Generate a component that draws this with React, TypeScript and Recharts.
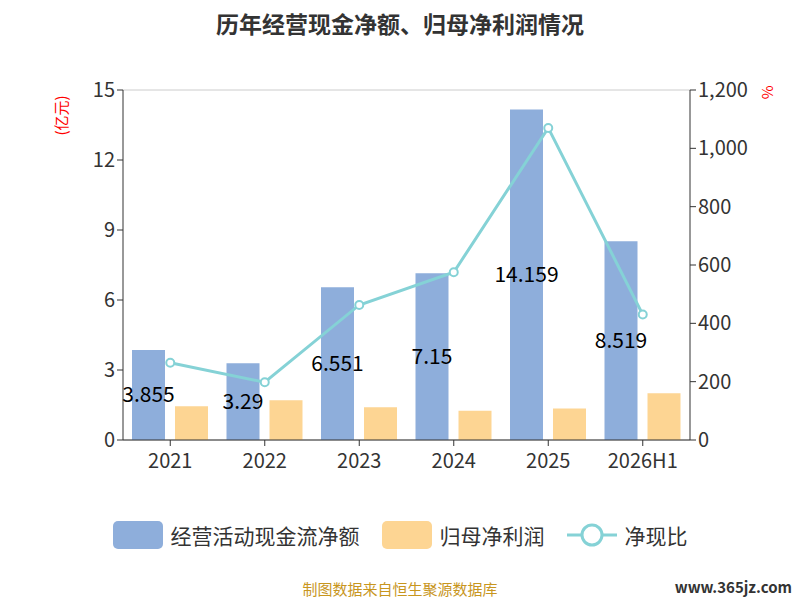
import { Bar, CartesianGrid, ComposedChart, LabelList, Line, XAxis, YAxis } from "recharts";

const years = ["2021", "2022", "2023", "2024", "2025", "2026H1"];
const cashFlow = [3.855, 3.29, 6.551, 7.15, 14.159, 8.519];
const netProfit = [1.45, 1.7, 1.4, 1.25, 1.35, 2.0];
const ratio = [265, 198, 463, 575, 1070, 430];

const data = years.map((year, i) => ({
    year,
    cash: cashFlow[i],
    profit: netProfit[i],
    ratio: ratio[i],
}));

const font = "'Microsoft YaHei', 'Noto Sans CJK SC', sans-serif";

export default function App() {
    return (
        <div style={{ position: "absolute", left: 0, top: 0, width: 800, height: 600, background: "#fff", fontFamily: font }}>
            <div style={{ position: "absolute", top: 6, width: 800, textAlign: "center", fontSize: 23, fontWeight: "bold", color: "#333" }}>
                历年经营现金净额、归母净利润情况
            </div>
            <div style={{ position: "absolute", left: 40, top: 105, color: "red", fontSize: 15, transform: "rotate(-90deg)" }}>
                (亿元)
            </div>
            <div style={{ position: "absolute", left: 762, top: 82, color: "red", fontSize: 15, transform: "rotate(90deg)" }}>%</div>
            <ComposedChart
                width={800}
                height={480}
                data={data}
                margin={{ top: 90, right: 20, bottom: 0, left: 60 }}
                barGap={10}
                barCategoryGap={10}
            >
                <CartesianGrid vertical={false} stroke="#ccc" />
                <XAxis dataKey="year" stroke="#333" tick={{ fill: "#333", fontSize: 20 }} tickMargin={8} height={40} />
                <YAxis
                    yAxisId="left"
                    domain={[0, 15]}
                    ticks={[0, 3, 6, 9, 12, 15]}
                    stroke="#333"
                    tick={{ fill: "#333", fontSize: 20 }}
                    width={63}
                />
                <YAxis
                    yAxisId="right"
                    orientation="right"
                    domain={[0, 1200]}
                    ticks={[0, 200, 400, 600, 800, 1000, 1200]}
                    tickFormatter={(v: number) => v.toLocaleString("en-US")}
                    stroke="#333"
                    tick={{ fill: "#333", fontSize: 20 }}
                    width={90}
                />
                <Bar yAxisId="left" dataKey="cash" name="经营活动现金流净额" fill="#8eaedb" barSize={33} isAnimationActive={false}>
                    <LabelList dataKey="cash" position="center" fill="#000" fontSize={21} />
                </Bar>
                <Bar yAxisId="left" dataKey="profit" name="归母净利润" fill="#fdd593" barSize={33} isAnimationActive={false} />
                <Line
                    yAxisId="right"
                    dataKey="ratio"
                    name="净现比"
                    stroke="#85d2d6"
                    strokeWidth={3}
                    dot={{ r: 4, fill: "#fff", stroke: "#85d2d6", strokeWidth: 2 }}
                    isAnimationActive={false}
                />
            </ComposedChart>
            <div style={{ position: "absolute", top: 520, width: 800, display: "flex", justifyContent: "center", alignItems: "center", gap: 22, fontSize: 21, color: "#333" }}>
                <span style={{ display: "flex", alignItems: "center", gap: 8 }}>
                    <span style={{ width: 50, height: 28, background: "#8eaedb", borderRadius: 5 }} />经营活动现金流净额
                </span>
                <span style={{ display: "flex", alignItems: "center", gap: 8 }}>
                    <span style={{ width: 50, height: 28, background: "#fdd593", borderRadius: 5 }} />归母净利润
                </span>
                <span style={{ display: "flex", alignItems: "center", gap: 8 }}>
                    <svg width={50} height={28}>
                        <line x1={0} y1={14} x2={50} y2={14} stroke="#85d2d6" strokeWidth={3} />
                        <circle cx={25} cy={14} r={10} fill="#fff" stroke="#85d2d6" strokeWidth={3} />
                    </svg>
                    净现比
                </span>
            </div>
            <div style={{ position: "absolute", top: 578, width: 800, textAlign: "center", fontSize: 15, color: "#c8961e" }}>
                制图数据来自恒生聚源数据库
            </div>
            <div style={{ position: "absolute", top: 576, right: 8, fontSize: 15, fontWeight: "bold", color: "#333" }}>
                www.365jz.com
            </div>
        </div>
    );
}
